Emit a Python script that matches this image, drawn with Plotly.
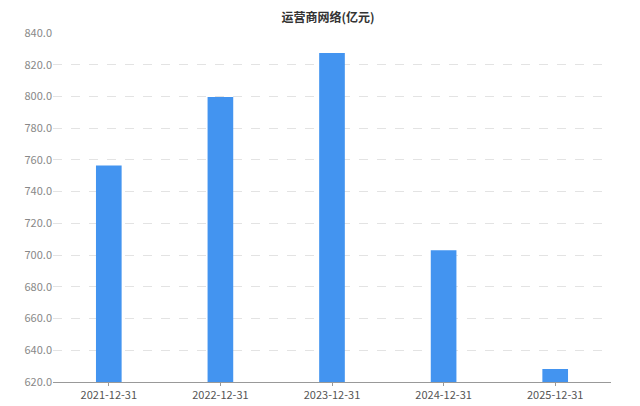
import plotly.graph_objects as go

dates = ['2021-12-31', '2022-12-31', '2023-12-31', '2024-12-31', '2025-12-31']
values = [756.4, 799.6, 827.4, 703.0, 628.2]
y_ticks = [620, 640, 660, 680, 700, 720, 740, 760, 780, 800, 820, 840]

fig = go.Figure(go.Bar(
    x=dates,
    y=values,
    marker=dict(color='#4394f0', line=dict(width=0)),
    width=0.23,
))

fig.update_layout(
    width=640,
    height=406,
    margin=dict(l=45, r=37, t=25, b=14),
    paper_bgcolor='white',
    plot_bgcolor='white',
    font=dict(family='Noto Sans CJK SC, Noto Sans, sans-serif', color='#666'),
    title=dict(
        text='<b>运营商网络(亿元)</b>',
        x=0.5,
        xanchor='center',
        y=0.975,
        yanchor='middle',
        font=dict(size=12, color='#333'),
    ),
    showlegend=False,
    xaxis=dict(
        type='category',
        showgrid=False,
        showline=True,
        linecolor='#999',
        linewidth=1,
        ticks='outside',
        ticklen=3,
        tickcolor='#999',
        tickfont=dict(size=11, color='#555'),
    ),
    yaxis=dict(
        range=[620, 840],
        tickvals=y_ticks,
        ticktext=[f'{v:.1f}' for v in y_ticks],
        showgrid=True,
        gridcolor='#e3e3e3',
        griddash='dash',
        gridwidth=1,
        zeroline=False,
        showline=False,
        ticks='',
        tickfont=dict(size=11, color='#888'),
    ),
)

fig.write_html('out.html')
